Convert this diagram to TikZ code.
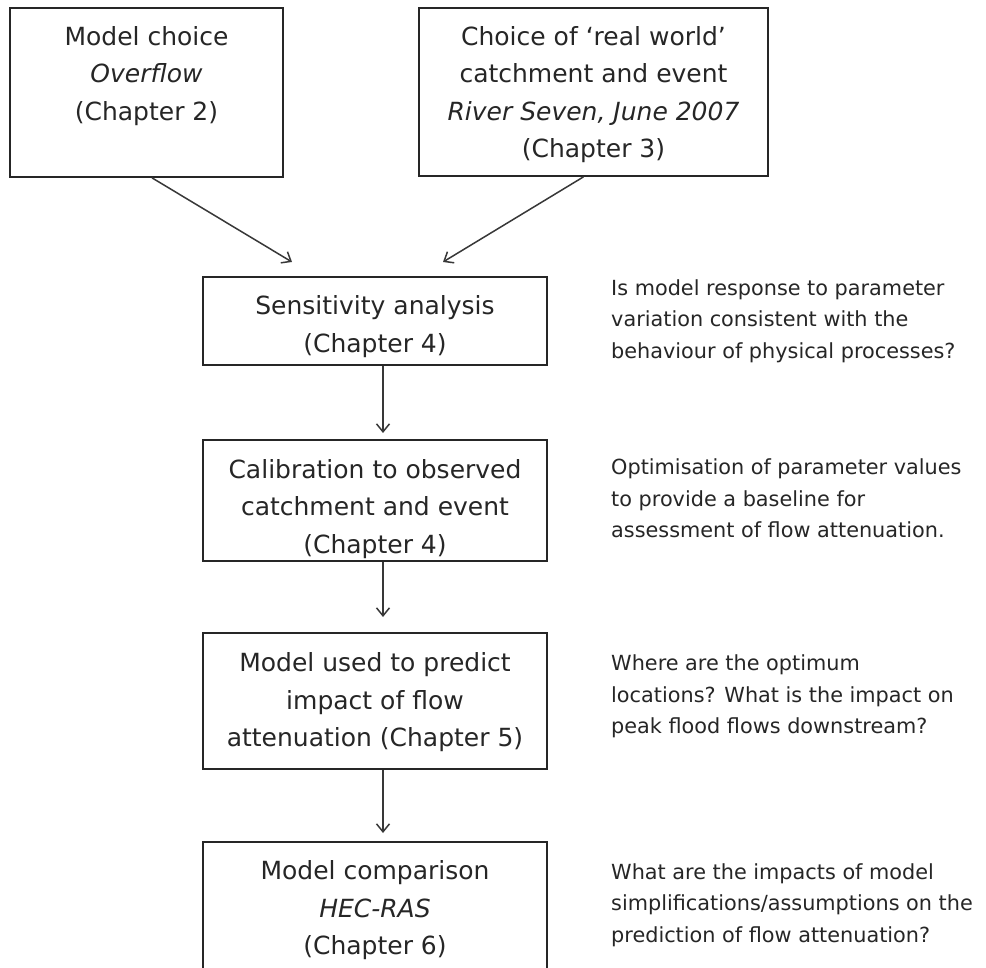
\documentclass[tikz,border=0pt]{standalone}
\usepackage{fontspec}
\setmainfont{DejaVu Sans}
\usetikzlibrary{arrows.meta}
\tikzset{
  boxnode/.style={draw=black!85, line width=1.7pt, rectangle, inner sep=0pt},
  boxtext/.style={align=center, font=\fontsize{25}{37.5}\selectfont, text=black!85, inner sep=0pt},
  note/.style={align=left, anchor=west, font=\fontsize{20.8}{31.5}\selectfont, text=black!85, inner sep=0pt},
  flow/.style={draw=black!78, line width=1.5pt, -{Straight Barb[length=8pt,width=13pt,line width=1.5pt]}}
}
\begin{document}
\begin{tikzpicture}[x=1pt,y=-1pt]
\useasboundingbox (0,0) rectangle (986,968);
\clip (0,0) rectangle (986,968);
\fill[white] (0,0) rectangle (986,968);

% boxes
\node[boxnode, minimum width=273pt, minimum height=169pt] (b1) at (146.5,92.5) {};
\node[boxnode, minimum width=349pt, minimum height=168pt] (b2) at (593.5,92) {};
\node[boxnode, minimum width=344pt, minimum height=88pt] (b3) at (375,321) {};
\node[boxnode, minimum width=344pt, minimum height=121pt] (b4) at (375,500.5) {};
\node[boxnode, minimum width=344pt, minimum height=136pt] (b5) at (375,701) {};
\node[boxnode, minimum width=344pt, minimum height=138pt] (b6) at (375,911) {};

% box texts
\node[boxtext] (t1) at (146.5,76) {Model choice\\\textit{Overflow}\\(Chapter 2)};
\node[boxtext] (t2) at (593.5,94.5) {Choice of ‘real world’\\catchment and event\\\textit{River Seven, June 2007}\\(Chapter 3)};
\node[boxtext] (t3) at (375,326.5) {Sensitivity analysis\\(Chapter 4)};
\node[boxtext] (t4) at (375,509) {Calibration to observed\\catchment and event\\(Chapter 4)};
\node[boxtext] (t5) at (375,702.5) {Model used to predict\\impact of flow\\attenuation (Chapter 5)};
\node[boxtext] (t6) at (375,910.5) {Model comparison\\\textit{HEC-RAS}\\(Chapter 6)};

% side notes
\node[note] (n1) at (611,321) {Is model response to parameter\\variation consistent with the\\behaviour of physical processes?};
\node[note] (n2) at (611,498.5) {Optimisation of parameter values\\to provide a baseline for\\assessment of flow attenuation.};
\node[note] (n3) at (611,696.5) {Where are the optimum\\locations? What is the impact on\\peak flood flows downstream?};
\node[note] (n4) at (611,905) {What are the impacts of model\\simplifications/assumptions on the\\prediction of flow attenuation?};

% connectors
\coordinate (e1) at (292,262);
\coordinate (e2) at (443,262);
\coordinate (e3) at (383,433);
\coordinate (e4) at (383,617);
\coordinate (e5) at (383,833);
\draw[flow] ([xshift=5.5pt]b1.south) -- (e1);
\draw[flow] ([xshift=-10pt]b2.south) -- (e2);
\draw[flow] ([xshift=8pt]b3.south) -- (e3);
\draw[flow] ([xshift=8pt]b4.south) -- (e4);
\draw[flow] ([xshift=8pt]b5.south) -- (e5);
\end{tikzpicture}
\end{document}
